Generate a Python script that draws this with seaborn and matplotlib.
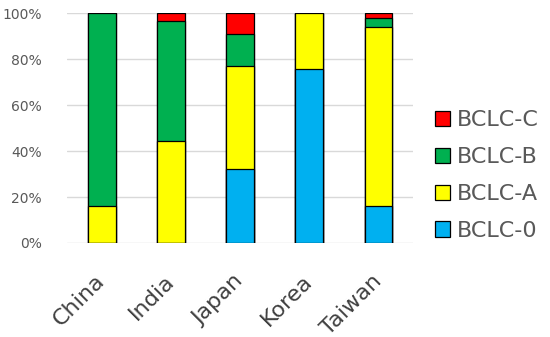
import matplotlib
matplotlib.use("Agg")
import matplotlib.pyplot as plt
import seaborn as sns
import pandas as pd
from matplotlib.patches import Patch

# data (percent of patients per stage)
countries = ["China", "India", "Japan", "Korea", "Taiwan"]
bclc_0 = [0, 0, 32, 75.5, 16]
bclc_a = [16, 44.5, 45, 24.5, 78]
bclc_b = [84, 52, 14, 0, 4]
bclc_c = [0, 3.5, 9, 0, 2]
stages = ["BCLC-0", "BCLC-A", "BCLC-B", "BCLC-C"]
colors = ["#00B0F0", "#FFFF00", "#00B050", "#FF0000"]

sns.set_style("white")
plt.rcParams['font.family'] = ['DejaVu Sans']

df = pd.DataFrame({"country": countries, "BCLC-0": bclc_0, "BCLC-A": bclc_a,
                   "BCLC-B": bclc_b, "BCLC-C": bclc_c})
# cumulative tops, draw the tallest layer first
cum = df[stages].cumsum(axis=1)
cum["country"] = df["country"]

fig = plt.figure(figsize=(5.5, 3.37), dpi=100)
ax = fig.add_axes([0.122, 0.279, 0.629, 0.682])

for st, col in reversed(list(zip(stages, colors))):
    sns.barplot(data=cum, x="country", y=st, color=col, width=0.4,
                edgecolor="black", linewidth=0.9, saturation=1, ax=ax, zorder=3)

ax.set_xlim(-0.5, 4.5)
ax.set_ylim(0, 100)
ax.set_yticks(range(0, 101, 20))
ax.set_yticklabels([f"{v}%" for v in range(0, 101, 20)], fontsize=10, color="#595959")
ax.yaxis.grid(True, color="#D9D9D9", linewidth=1, zorder=0)
ax.set_axisbelow(True)
ax.tick_params(axis="y", length=0, pad=18)
ax.tick_params(axis="x", length=0, pad=25)
ax.set_xticks(range(len(countries)))
ax.set_xticklabels(countries, rotation=45, ha="right", va="center",
                   rotation_mode="anchor", fontsize=16, color="#404040")
ax.set_xlabel("")
ax.set_ylabel("")
for s in ax.spines.values():
    s.set_visible(False)

handles = [Patch(facecolor=c, edgecolor="black", linewidth=0.9, label=s)
           for s, c in zip(stages, colors)][::-1]
fig.legend(handles=handles, loc="center left", bbox_to_anchor=(0.791, 0.479),
           frameon=False, fontsize=16, labelcolor="#595959", handlelength=0.68,
           handleheight=0.68, handletextpad=0.3, labelspacing=0.76,
           borderpad=0, borderaxespad=0)

fig.savefig("out.png", dpi=100)
